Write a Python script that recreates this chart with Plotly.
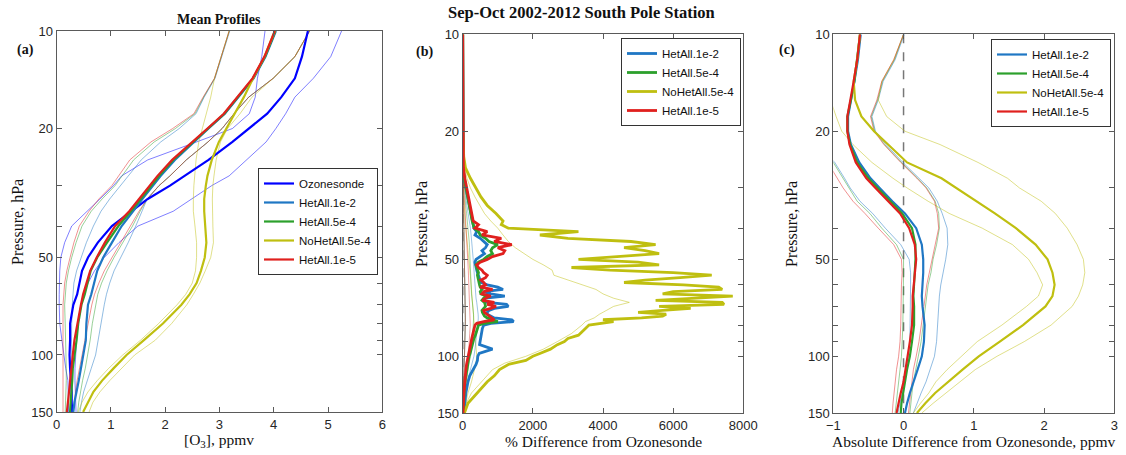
import numpy as np
import plotly.graph_objects as go

# pressure levels (hPa) used for panels (a) and (c)
P_A = [10, 12, 14, 16, 18, 20, 22, 25, 28, 30, 33, 36, 40, 45, 50, 55, 60, 65, 70, 80, 90, 100, 110, 120, 130, 140, 150]

# (a) mean profiles, ppmv
SONDE_MEAN = [4.63, 4.52, 4.39, 4.14, 3.88, 3.54, 3.24, 2.80, 2.36, 2.09, 1.68, 1.39, 1.02, 0.76, 0.58, 0.47, 0.43, 0.38, 0.31, 0.25, 0.25, 0.24, 0.25, 0.27, 0.28, 0.28, 0.29]
SONDE_LO = [3.84, 3.78, 3.70, 3.66, 3.55, 3.24, 2.58, 1.68, 1.20, 1.05, 0.80, 0.56, 0.28, 0.15, 0.08, 0.06, 0.05, 0.05, 0.05, 0.06, 0.10, 0.13, 0.17, 0.21, 0.22, 0.22, 0.22]
SONDE_HI = [5.25, 5.05, 4.73, 4.39, 4.22, 4.04, 3.86, 3.50, 3.18, 2.86, 2.49, 2.15, 1.50, 1.15, 0.88, 0.70, 0.58, 0.50, 0.45, 0.40, 0.37, 0.35, 0.34, 0.34, 0.35, 0.35, 0.36]

H2_MEAN = [4.04, 3.85, 3.63, 3.34, 3.10, 2.80, 2.53, 2.18, 1.92, 1.77, 1.58, 1.41, 1.20, 1.02, 0.86, 0.75, 0.70, 0.64, 0.58, 0.55, 0.54, 0.50, 0.45, 0.41, 0.37, 0.33, 0.31]
H2_LO = [3.19, 3.05, 2.92, 2.72, 2.57, 2.26, 1.92, 1.56, 1.32, 1.18, 0.98, 0.82, 0.68, 0.55, 0.45, 0.37, 0.32, 0.30, 0.29, 0.28, 0.28, 0.28, 0.27, 0.25, 0.23, 0.22, 0.21]
H2_HI = [4.66, 4.39, 3.99, 3.54, 3.27, 3.05, 2.79, 2.39, 2.09, 1.89, 1.67, 1.58, 1.46, 1.32, 1.18, 1.06, 0.98, 0.92, 0.88, 0.82, 0.78, 0.72, 0.64, 0.56, 0.50, 0.46, 0.43]

H4_MEAN = [4.03, 3.84, 3.62, 3.33, 3.09, 2.79, 2.51, 2.15, 1.89, 1.74, 1.55, 1.37, 1.14, 0.93, 0.75, 0.63, 0.58, 0.52, 0.46, 0.40, 0.37, 0.33, 0.30, 0.29, 0.27, 0.26, 0.25]
H4_LO = [3.18, 3.04, 2.91, 2.71, 2.55, 2.19, 1.80, 1.42, 1.20, 1.08, 0.84, 0.64, 0.47, 0.36, 0.28, 0.22, 0.18, 0.16, 0.15, 0.16, 0.17, 0.17, 0.18, 0.18, 0.17, 0.16, 0.16]
H4_HI = [4.66, 4.39, 3.99, 3.54, 3.27, 3.05, 2.79, 2.39, 2.09, 1.89, 1.67, 1.54, 1.40, 1.22, 1.06, 0.93, 0.83, 0.76, 0.72, 0.66, 0.62, 0.58, 0.53, 0.48, 0.44, 0.41, 0.39]

NH_MEAN = [4.02, 3.83, 3.62, 3.45, 3.28, 3.12, 2.99, 2.86, 2.78, 2.75, 2.72, 2.72, 2.74, 2.76, 2.73, 2.66, 2.58, 2.45, 2.30, 1.96, 1.61, 1.29, 1.05, 0.84, 0.68, 0.58, 0.49]
NH_LO = [3.18, 3.04, 2.91, 2.84, 2.76, 2.68, 2.62, 2.57, 2.54, 2.53, 2.52, 2.52, 2.55, 2.58, 2.58, 2.56, 2.50, 2.38, 2.22, 1.88, 1.55, 1.22, 0.96, 0.75, 0.58, 0.47, 0.40]
NH_HI = [4.66, 4.39, 3.99, 3.60, 3.38, 3.15, 3.02, 2.94, 2.90, 2.88, 2.87, 2.87, 2.88, 2.89, 2.84, 2.74, 2.64, 2.52, 2.40, 2.12, 1.82, 1.44, 1.20, 0.98, 0.80, 0.67, 0.60]

H5_MEAN = [4.02, 3.83, 3.61, 3.32, 3.08, 2.78, 2.50, 2.13, 1.86, 1.71, 1.52, 1.34, 1.08, 0.89, 0.74, 0.62, 0.55, 0.49, 0.45, 0.38, 0.33, 0.30, 0.27, 0.25, 0.23, 0.21, 0.19]
H5_LO = [3.18, 3.04, 2.91, 2.70, 2.53, 2.14, 1.74, 1.35, 1.15, 1.02, 0.78, 0.60, 0.42, 0.32, 0.25, 0.19, 0.15, 0.13, 0.12, 0.12, 0.12, 0.13, 0.13, 0.13, 0.13, 0.12, 0.12]
H5_HI = [4.66, 4.39, 3.99, 3.54, 3.27, 3.05, 2.79, 2.39, 2.09, 1.89, 1.67, 1.52, 1.36, 1.18, 1.02, 0.88, 0.78, 0.70, 0.65, 0.58, 0.52, 0.47, 0.42, 0.38, 0.35, 0.33, 0.31]

# (b) % difference from ozonesonde
P_B = [10, 20, 24, 26, 28, 30, 32, 34, 36, 38, 39, 40, 41, 42, 43, 44, 45, 46, 47, 48,
       49, 50, 51, 52, 53, 54, 55, 56, 57, 58, 59, 60, 61, 62, 63, 64, 65, 66, 67, 68,
       69, 70, 71, 72, 73, 74, 75, 76, 77, 78, 79, 80, 82, 84, 86, 88, 90, 92, 95, 98,
       100, 103, 106, 110, 115, 120, 125, 130, 140, 150]
B_NH_MEAN = [0, 0, 30, 80, 220, 380, 520, 700, 950, 1150, 1100, 1300, 3300, 2200, 3000, 4800, 5500, 4600, 5200, 5600,
             4400, 3300, 5000, 5600, 3100, 4200, 6000, 7100, 6200, 5200, 4600, 6300, 7300, 7400, 6000, 5700, 7700, 6400, 5500, 7400,
             7450, 5600, 6500, 5700, 5000, 5800, 5700, 5100, 4000, 4300, 3900, 3600, 3500, 3400, 3300, 3000, 2900, 2700, 2500, 2200,
             2000, 1800, 1300, 1050, 900, 700, 550, 400, 150, 50]
B_H2_MEAN = [0, 0, 5, 15, 40, 90, 140, 200, 230, 280, 300, 320, 400, 350, 500, 600, 700, 650, 550, 620,
             500, 380, 350, 360, 380, 400, 420, 450, 480, 500, 520, 700, 1000, 1150, 600, 800, 1200, 650, 600, 700,
             1250, 1300, 900, 750, 700, 700, 800, 900, 1400, 1450, 800, 600, 560, 540, 530, 520, 500, 480, 850, 470,
             430, 420, 380, 300, 200, 150, 120, 90, 60, 30]
B_H4_MEAN = [0, 0, 5, 15, 45, 90, 140, 190, 230, 270, 300, 330, 450, 500, 650, 750, 1000, 850, 800, 850,
             700, 600, 450, 380, 400, 420, 450, 420, 430, 450, 470, 480, 500, 550, 500, 520, 700, 600, 550, 620,
             640, 650, 600, 550, 560, 580, 620, 700, 850, 1000, 600, 450, 420, 400, 360, 320, 300, 270, 240, 210,
             180, 160, 140, 110, 85, 65, 50, 40, 25, 12]
B_H5_MEAN = [0, 0, 10, 20, 60, 110, 160, 200, 250, 300, 450, 350, 700, 550, 1100, 900, 1400, 1000, 1200, 1150,
             850, 700, 500, 400, 450, 550, 600, 700, 650, 520, 600, 650, 500, 850, 600, 550, 800, 650, 560, 900,
             700, 950, 800, 600, 620, 700, 750, 850, 900, 600, 400, 350, 320, 300, 280, 260, 240, 220, 200, 170,
             150, 130, 110, 90, 70, 55, 45, 35, 20, 10]

P_BT = [10, 20, 24, 26, 28, 30, 32, 34, 36, 38, 40, 42, 44, 46, 48, 50, 52, 54, 56, 58, 60,
        62, 64, 66, 68, 70, 72, 74, 76, 78, 80, 85, 90, 95, 100, 105, 110, 120, 130, 140, 150]
B_NH_HI = [0, 0, 30, 60, 120, 220, 350, 480, 620, 800, 1000, 1150, 1300, 1500, 1750, 2000, 2300, 2550, 2600, 3000, 3400,
           3800, 4000, 4300, 4750, 4300, 4100, 3900, 3750, 3500, 3400, 3100, 2700, 2300, 1800, 1200, 850, 550, 250, 100, 30]
B_NH_LO = [0, 0, 0, 5, 10, 20, 30, 40, 55, 70, 90, 110, 130, 150, 170, 190, 200, 210, 220, 230, 240,
           250, 260, 270, 280, 290, 300, 310, 320, 330, 340, 360, 380, 400, 400, 380, 340, 250, 150, 80, 30]
B_H2_HI = [0, 0, 10, 20, 40, 60, 90, 120, 160, 190, 220, 240, 260, 280, 290, 300, 310, 320, 330, 340, 350,
           350, 360, 380, 400, 420, 430, 440, 445, 445, 430, 400, 380, 350, 320, 260, 220, 150, 90, 50, 20]
B_H4_HI = [0, 0, 5, 15, 30, 45, 65, 85, 110, 135, 155, 170, 185, 195, 205, 210, 215, 225, 230, 240, 245,
           245, 250, 265, 280, 295, 300, 310, 310, 310, 300, 280, 265, 245, 225, 180, 150, 105, 60, 35, 15]
B_H5_HI = [0, 0, 5, 10, 20, 30, 45, 60, 80, 95, 110, 120, 130, 140, 145, 150, 155, 160, 165, 170, 175,
           175, 180, 190, 200, 210, 215, 220, 222, 222, 215, 200, 190, 175, 160, 130, 110, 75, 45, 25, 10]
B_HET_LO = [0, 0, 0, 0, 5, 10, 15, 20, 25, 30, 35, 40, 45, 50, 55, 55, 60, 60, 60, 65, 65,
            65, 70, 70, 70, 75, 75, 75, 75, 75, 70, 65, 60, 55, 50, 40, 35, 25, 15, 10, 5]

# (c) absolute difference from ozonesonde, ppmv
C_H2_MEAN = [-0.61, -0.65, -0.70, -0.75, -0.79, -0.79, -0.75, -0.63, -0.47, -0.34, -0.16, 0.02, 0.18, 0.26, 0.28, 0.28, 0.27, 0.26, 0.27, 0.30, 0.29, 0.26, 0.20, 0.14, 0.09, 0.05, 0.02]
C_H2_LO = [-2.0, -1.9, -1.8, -1.7, -1.6, -1.40, -1.22, -0.98, -0.84, -0.76, -0.62, -0.44, -0.26, -0.04, 0.08, 0.10, 0.10, 0.10, 0.10, 0.10, 0.09, 0.07, 0.04, 0.01, -0.02, -0.05, -0.08]
C_H2_HI = [0.01, -0.12, -0.29, -0.36, -0.45, -0.40, -0.25, -0.01, 0.22, 0.36, 0.48, 0.55, 0.62, 0.63, 0.60, 0.56, 0.53, 0.51, 0.50, 0.49, 0.47, 0.44, 0.38, 0.32, 0.25, 0.19, 0.14]
C_H4_MEAN = [-0.62, -0.66, -0.70, -0.75, -0.80, -0.80, -0.76, -0.66, -0.50, -0.37, -0.19, -0.02, 0.12, 0.17, 0.17, 0.16, 0.15, 0.14, 0.15, 0.15, 0.12, 0.09, 0.05, 0.02, -0.01, -0.03, -0.04]
C_H4_LO = [-2.0, -1.9, -1.8, -1.7, -1.6, -1.42, -1.25, -1.00, -0.86, -0.78, -0.66, -0.48, -0.31, -0.10, 0.00, 0.00, 0.00, -0.01, -0.01, -0.01, -0.02, -0.03, -0.05, -0.07, -0.09, -0.11, -0.12]
C_H4_HI = [0.00, -0.13, -0.30, -0.37, -0.46, -0.41, -0.27, -0.03, 0.20, 0.33, 0.45, 0.50, 0.51, 0.47, 0.42, 0.39, 0.35, 0.33, 0.31, 0.28, 0.25, 0.21, 0.17, 0.14, 0.12, 0.10, 0.09]
C_NH_MEAN = [-0.62, -0.66, -0.71, -0.69, -0.60, -0.42, -0.22, 0.05, 0.54, 0.75, 1.05, 1.30, 1.60, 1.88, 2.05, 2.12, 2.15, 2.12, 2.02, 1.70, 1.37, 1.07, 0.84, 0.63, 0.45, 0.31, 0.19]
C_NH_LO = [-1.6, -1.4, -1.2, -1.04, -0.96, -0.88, -0.72, -0.45, -0.15, 0.05, 0.35, 0.65, 1.12, 1.55, 1.78, 1.90, 1.98, 1.92, 1.75, 1.40, 1.05, 0.82, 0.62, 0.46, 0.36, 0.24, 0.14]
C_NH_HI = [0.00, -0.14, -0.31, -0.36, -0.24, 0.02, 0.52, 1.06, 1.48, 1.65, 1.96, 2.16, 2.33, 2.47, 2.56, 2.58, 2.55, 2.49, 2.40, 2.10, 1.72, 1.33, 1.02, 0.80, 0.60, 0.42, 0.26]
C_H5_MEAN = [-0.62, -0.66, -0.71, -0.76, -0.80, -0.80, -0.77, -0.68, -0.53, -0.40, -0.22, -0.05, 0.08, 0.16, 0.18, 0.16, 0.14, 0.13, 0.13, 0.12, 0.09, 0.06, 0.03, 0.00, -0.04, -0.07, -0.10]
C_H5_LO = [-2.0, -1.9, -1.8, -1.7, -1.6, -1.45, -1.3, -1.08, -0.95, -0.86, -0.72, -0.55, -0.36, -0.14, -0.03, -0.02, -0.03, -0.03, -0.03, -0.04, -0.05, -0.07, -0.10, -0.12, -0.14, -0.15, -0.16]
C_H5_HI = [0.00, -0.14, -0.31, -0.38, -0.47, -0.42, -0.28, -0.04, 0.19, 0.32, 0.44, 0.48, 0.50, 0.45, 0.40, 0.37, 0.33, 0.31, 0.29, 0.26, 0.22, 0.18, 0.14, 0.12, 0.10, 0.08, 0.07]

SONDE_C = '#0000ff'
COLORS = {'HetAll.1e-2': '#1f77c4', 'HetAll.5e-4': '#2ca02c',
          'NoHetAll.5e-4': '#bfbf10', 'HetAll.1e-5': '#e0201e'}
THIN = {'HetAll.1e-2': 'rgba(31,119,196,0.55)', 'HetAll.5e-4': 'rgba(44,160,44,0.55)',
        'NoHetAll.5e-4': 'rgba(191,191,16,0.55)', 'HetAll.1e-5': 'rgba(224,32,30,0.55)'}

SERIF = 'Liberation Serif'
SANS = 'Liberation Sans'

fig = go.Figure()


def line(x, y, color, width, ax, name=None, legend=None, dash=None):
    fig.add_trace(go.Scatter(
        x=x, y=y, mode='lines', name=name,
        line=dict(color=color, width=width, dash=dash),
        xaxis='x' + ax, yaxis='y' + ax,
        legend=legend, showlegend=name is not None,
        hoverinfo='skip'
    ))


# ---- panel (a) ----
line([0, 0], [10, 150], '#555555', 1, '', dash='dash')
line(SONDE_LO, P_A, 'rgba(0,0,255,0.5)', 1, '')
line(SONDE_HI, P_A, 'rgba(0,0,255,0.5)', 1, '')
a_models = [('HetAll.1e-2', H2_MEAN, H2_LO, H2_HI), ('HetAll.5e-4', H4_MEAN, H4_LO, H4_HI),
            ('NoHetAll.5e-4', NH_MEAN, NH_LO, NH_HI), ('HetAll.1e-5', H5_MEAN, H5_LO, H5_HI)]
for nm, m, lo, hi in a_models:
    line(lo, P_A, THIN[nm], 0.9, '')
    line(hi, P_A, THIN[nm], 0.9, '')
line(SONDE_MEAN, P_A, SONDE_C, 2.2, '', name='Ozonesonde', legend='legend')
for nm, m, lo, hi in a_models:
    line(m, P_A, COLORS[nm], 2.2, '', name=nm, legend='legend')

# ---- panel (b) ----
line([0, 0], [10, 150], '#222222', 1.2, '2', dash='dash')
line(B_NH_LO, P_BT, THIN['NoHetAll.5e-4'], 0.9, '2')
line(B_NH_HI, P_BT, THIN['NoHetAll.5e-4'], 0.9, '2')
for nm, hi in [('HetAll.1e-2', B_H2_HI), ('HetAll.5e-4', B_H4_HI), ('HetAll.1e-5', B_H5_HI)]:
    line(B_HET_LO, P_BT, THIN[nm], 0.8, '2')
    line(hi, P_BT, THIN[nm], 0.8, '2')
for nm, m in [('HetAll.1e-2', B_H2_MEAN), ('HetAll.5e-4', B_H4_MEAN),
              ('NoHetAll.5e-4', B_NH_MEAN), ('HetAll.1e-5', B_H5_MEAN)]:
    line(m, P_B, COLORS[nm], 2.8, '2', name=nm, legend='legend2')

# ---- panel (c) ----
line([0, 0], [10, 150], '#777777', 1.5, '3', dash='dash')
c_models = [('HetAll.1e-2', C_H2_MEAN, C_H2_LO, C_H2_HI), ('HetAll.5e-4', C_H4_MEAN, C_H4_LO, C_H4_HI),
            ('NoHetAll.5e-4', C_NH_MEAN, C_NH_LO, C_NH_HI), ('HetAll.1e-5', C_H5_MEAN, C_H5_LO, C_H5_HI)]
for nm, m, lo, hi in c_models:
    line(lo, P_A, THIN[nm], 0.9, '3')
    line(hi, P_A, THIN[nm], 0.9, '3')
for nm, m, lo, hi in c_models:
    line(m, P_A, COLORS[nm], 2.2, '3', name=nm, legend='legend3')

W, H = 1126, 455
AXC = '#5a5a5a'
tick_font = dict(family=SANS, size=13, color='#262626')


def xax(left, right, rng, dtick, anchor):
    return dict(domain=[left / W, right / W], range=rng, dtick=dtick, anchor=anchor,
                showgrid=False, zeroline=False, showline=True, linecolor=AXC, linewidth=1,
                mirror='ticks', ticks='inside', ticklen=5, tickcolor=AXC, tickfont=tick_font)


def yax(top, bottom, anchor):
    return dict(domain=[1 - bottom / H, 1 - top / H], type='log', range=[np.log10(150), 1],
                tickvals=[10, 20, 50, 100, 150], ticktext=['10', '20', '50', '100', '150'],
                minor=dict(tickvals=[30, 40, 60, 70, 80, 90], ticks='inside', ticklen=5, tickcolor=AXC),
                anchor=anchor, showgrid=False, zeroline=False, showline=True, linecolor=AXC,
                linewidth=1, mirror='ticks', ticks='inside', ticklen=5, tickcolor=AXC, tickfont=tick_font)


def leg(right, top):
    # anchored on the right edge so that the box stays inside the page
    return dict(x=right / W, y=1 - top / H, xanchor='right', yanchor='top', bgcolor='white',
                bordercolor='#333333', borderwidth=1, font=dict(family=SANS, size=11.5, color='#111'),
                itemwidth=30, tracegroupgap=0)


ann = []


def text(s, x, y, size=15, bold=False, angle=0):
    ann.append(dict(text='<b>%s</b>' % s if bold else s, x=x / W, y=1 - y / H, xref='paper', yref='paper',
                    showarrow=False, textangle=angle, xanchor='center', yanchor='middle',
                    font=dict(family=SERIF, size=size, color='#111')))


text('Mean Profiles', 219, 20, 14, True)
text('Sep-Oct 2002-2012 South Pole Station', 581, 12, 16.5, True)
text('(a)', 25, 50, 14, True)
text('(b)', 424, 52, 14, True)
text('(c)', 787, 50, 14, True)
text('Pressure, hPa', 17, 222, 16, angle=-90)
text('Pressure, hPa', 421, 224, 16, angle=-90)
text('Pressure, hPa', 791, 224, 16, angle=-90)
text('[O<sub>3</sub>], ppmv', 219, 440, 15.5)
text('% Difference from Ozonesonde', 603, 441, 15.5)
text('Absolute Difference from Ozonesonde, ppmv', 974, 441, 15.5)

fig.update_layout(
    width=W, height=H, margin=dict(l=0, r=0, t=0, b=0, autoexpand=False),
    paper_bgcolor='white', plot_bgcolor='white',
    xaxis=xax(56.5, 382.3, [0, 6], 1, 'y'),
    yaxis=yax(31, 412, 'x'),
    xaxis2=xax(462.7, 743.3, [0, 8000], 2000, 'y2'),
    yaxis2=yax(34.3, 413, 'x2'),
    xaxis3=xax(833.3, 1114.3, [-1, 3], 1, 'y3'),
    yaxis3=yax(34.3, 413, 'x3'),
    legend=leg(378, 168), legend2=leg(741, 38), legend3=leg(1111, 39),
    annotations=ann
)

# the page body has a default 8px margin; drop it so the figure fills the window
fig.write_html('out.html', config={'displayModeBar': False},
               post_script="document.body.style.margin='0';")
